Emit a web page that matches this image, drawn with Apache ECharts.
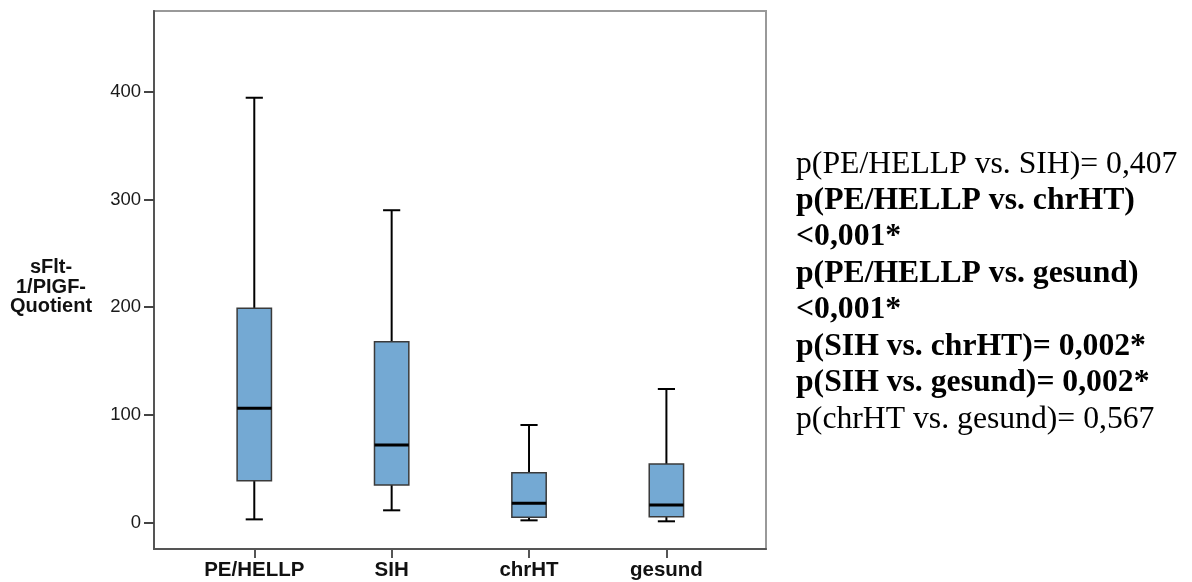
<!DOCTYPE html>
<html>
<head>
<meta charset="utf-8">
<script src="https://cdn.jsdelivr.net/npm/echarts@6/dist/echarts.min.js"></script>
<style>
html,body{margin:0;padding:0;background:#fff;}
#chart{width:1192px;height:582px;}
</style>
</head>
<body>
<div id="chart"></div>
<script>
// ---- data ----
var categories = ['PE/HELLP', 'SIH', 'chrHT', 'gesund'];
var whiskerLow = [3.1, 11.5, 2.2, 1.3];
var q1 = [39, 35, 5, 5.6];
var median = [106.2, 72.1, 18, 16.4];
var q3 = [199, 168, 46.4, 54.5];
var whiskerHigh = [394.4, 290, 90.7, 124.1];
var yTicks = [0, 100, 200, 300, 400];
var yName = ['sFlt-', '1/PIGF-', 'Quotient'];
var pLines = [
  ['n', 'p(PE/HELLP vs. SIH)= 0,407'],
  ['b', 'p(PE/HELLP vs. chrHT)'],
  ['b', '<0,001*'],
  ['b', 'p(PE/HELLP vs. gesund)'],
  ['b', '<0,001*'],
  ['b', 'p(SIH vs. chrHT)= 0,002*'],
  ['b', 'p(SIH vs. gesund)= 0,002*'],
  ['n', 'p(chrHT vs. gesund)= 0,567']
];

var boxData = categories.map(function (c, i) {
  return [i, whiskerLow[i], q1[i], median[i], q3[i], whiskerHigh[i]];
});

var chart = echarts.init(document.getElementById('chart'));

function renderBox(params, api) {
  var i = api.value(0);
  var bw = api.size([1, 0])[0] * 0.25;
  var hw = bw / 2;
  var cw = bw / 4;
  var pLow = api.coord([i, api.value(1)]);
  var pQ1 = api.coord([i, api.value(2)]);
  var pMed = api.coord([i, api.value(3)]);
  var pQ3 = api.coord([i, api.value(4)]);
  var pHigh = api.coord([i, api.value(5)]);
  var x = pLow[0];
  var wStyle = { stroke: '#000', lineWidth: 2, fill: null };
  return {
    type: 'group',
    children: [
      { type: 'line', shape: { x1: x, y1: pQ3[1], x2: x, y2: pHigh[1] }, style: wStyle },
      { type: 'line', shape: { x1: x, y1: pQ1[1], x2: x, y2: pLow[1] }, style: wStyle },
      { type: 'line', shape: { x1: x - cw, y1: pHigh[1], x2: x + cw, y2: pHigh[1] }, style: wStyle },
      { type: 'line', shape: { x1: x - cw, y1: pLow[1], x2: x + cw, y2: pLow[1] }, style: wStyle },
      { type: 'rect', shape: { x: x - hw, y: pQ3[1], width: bw, height: pQ1[1] - pQ3[1] },
        style: { fill: '#74a9d3', stroke: '#3a3a3a', lineWidth: 1.5 } },
      { type: 'line', shape: { x1: x - hw, y1: pMed[1], x2: x + hw, y2: pMed[1] },
        style: { stroke: '#000', lineWidth: 3 } }
    ]
  };
}

var richText = pLines.map(function (l) { return '{' + l[0] + '|' + l[1] + '}'; }).join('\n');

var option = {
  backgroundColor: '#fff',
  animation: false,
  grid: {
    left: 154, top: 11, right: 426, bottom: 33,
    show: true, borderColor: '#999', borderWidth: 2, backgroundColor: '#fff'
  },
  xAxis: {
    type: 'value',
    min: -0.73, max: 3.725,
    splitLine: { show: false },
    axisLine: { show: true, onZero: false, lineStyle: { color: '#555', width: 2 } },
    axisTick: { show: true, customValues: [0, 1, 2, 3], length: 9, lineStyle: { color: '#555', width: 2 } },
    axisLabel: {
      customValues: [0, 1, 2, 3],
      formatter: function (v) { return categories[Math.round(v)]; },
      margin: 11,
      fontFamily: 'Liberation Sans, Arial, sans-serif',
      fontWeight: 'bold', fontSize: 20.5, color: '#111'
    }
  },
  yAxis: {
    type: 'value',
    min: -24.4, max: 474.9,
    splitLine: { show: false },
    axisLine: { show: true, onZero: false, lineStyle: { color: '#555', width: 2 } },
    axisTick: { show: true, customValues: yTicks, length: 10, lineStyle: { color: '#444', width: 2 } },
    axisLabel: {
      customValues: yTicks,
      margin: 13,
      fontFamily: 'Liberation Sans, Arial, sans-serif',
      fontSize: 18.5, color: '#1a1a1a'
    }
  },
  graphic: [
    {
      type: 'text', x: 51, y: 258,
      style: {
        text: yName.join('\n'),
        align: 'center', verticalAlign: 'top',
        font: 'bold 20px "Liberation Sans", Arial, sans-serif',
        lineHeight: 19.5, fill: '#111'
      }
    },
    {
      type: 'text', x: 796, y: 146,
      style: {
        text: richText,
        align: 'left', verticalAlign: 'top',
        rich: {
          n: { fontFamily: '"Liberation Serif", "Times New Roman", serif', fontSize: 31.7, lineHeight: 36.5, fill: '#000' },
          b: { fontFamily: '"Liberation Serif", "Times New Roman", serif', fontSize: 31.7, fontWeight: 'bold', lineHeight: 36.5, fill: '#000' }
        }
      }
    }
  ],
  series: [{
    type: 'custom',
    renderItem: renderBox,
    encode: { x: 0, y: [1, 2, 3, 4, 5] },
    data: boxData
  }]
};
chart.setOption(option);
</script>
</body>
</html>
